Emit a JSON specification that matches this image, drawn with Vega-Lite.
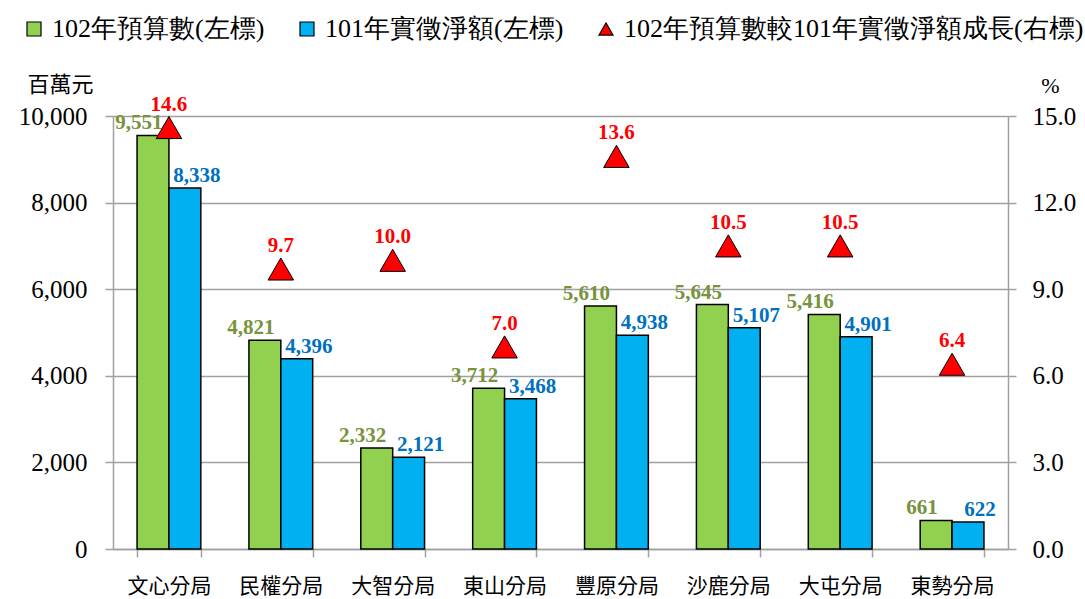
{
  "$schema": "https://vega.github.io/schema/vega-lite/v6.json",
  "width": 895,
  "height": 433,
  "autosize": {"type": "none"},
  "padding": {"left": 113, "top": 116, "right": 77, "bottom": 50},
  "background": "white",
  "config": {
    "view": {"stroke": null},
    "font": "Liberation Serif",
    "style": {
      "guide-label": {"font": "Liberation Serif", "fill": "black"},
      "guide-title": {"font": "Liberation Serif", "fill": "black"}
    },
    "axis": {
      "domainColor": "#A0A0A0",
      "domainWidth": 1.5,
      "tickColor": "#A0A0A0",
      "tickWidth": 1.5,
      "tickSize": 8,
      "gridColor": "#A0A0A0",
      "gridWidth": 1.5,
      "labelColor": "black",
      "labelFont": "Liberation Serif",
      "titleFont": "Liberation Serif",
      "titleFontWeight": "normal",
      "titleColor": "black"
    },
    "legend": {
      "labelFont": "Liberation Serif",
      "labelFontSize": 26,
      "labelColor": "black",
      "symbolSize": 196,
      "symbolStrokeColor": "black",
      "symbolStrokeWidth": 1.2,
      "labelOffset": 5,
      "columnPadding": 29,
      "padding": 0,
      "labelLimit": 700
    }
  },
  "data": {
    "values": [
      {"district": "文心分局", "series": "102年預算數(左標)", "value": 9551},
      {"district": "文心分局", "series": "101年實徵淨額(左標)", "value": 8338},
      {"district": "文心分局", "series": "102年預算數較101年實徵淨額成長(右標)", "value": 14.6},
      {"district": "民權分局", "series": "102年預算數(左標)", "value": 4821},
      {"district": "民權分局", "series": "101年實徵淨額(左標)", "value": 4396},
      {"district": "民權分局", "series": "102年預算數較101年實徵淨額成長(右標)", "value": 9.7},
      {"district": "大智分局", "series": "102年預算數(左標)", "value": 2332},
      {"district": "大智分局", "series": "101年實徵淨額(左標)", "value": 2121},
      {"district": "大智分局", "series": "102年預算數較101年實徵淨額成長(右標)", "value": 10.0},
      {"district": "東山分局", "series": "102年預算數(左標)", "value": 3712},
      {"district": "東山分局", "series": "101年實徵淨額(左標)", "value": 3468},
      {"district": "東山分局", "series": "102年預算數較101年實徵淨額成長(右標)", "value": 7.0},
      {"district": "豐原分局", "series": "102年預算數(左標)", "value": 5610},
      {"district": "豐原分局", "series": "101年實徵淨額(左標)", "value": 4938},
      {"district": "豐原分局", "series": "102年預算數較101年實徵淨額成長(右標)", "value": 13.6},
      {"district": "沙鹿分局", "series": "102年預算數(左標)", "value": 5645},
      {"district": "沙鹿分局", "series": "101年實徵淨額(左標)", "value": 5107},
      {"district": "沙鹿分局", "series": "102年預算數較101年實徵淨額成長(右標)", "value": 10.5},
      {"district": "大屯分局", "series": "102年預算數(左標)", "value": 5416},
      {"district": "大屯分局", "series": "101年實徵淨額(左標)", "value": 4901},
      {"district": "大屯分局", "series": "102年預算數較101年實徵淨額成長(右標)", "value": 10.5},
      {"district": "東勢分局", "series": "102年預算數(左標)", "value": 661},
      {"district": "東勢分局", "series": "101年實徵淨額(左標)", "value": 622},
      {"district": "東勢分局", "series": "102年預算數較101年實徵淨額成長(右標)", "value": 6.4}
    ]
  },
  "encoding": {
    "x": {
      "field": "district",
      "type": "nominal",
      "sort": ["文心分局", "民權分局", "大智分局", "東山分局", "豐原分局", "沙鹿分局", "大屯分局", "東勢分局"],
      "scale": {"paddingInner": 0.43, "paddingOuter": 0.215},
      "axis": {
        "title": null,
        "tickBand": "extent",
        "labelAngle": 0,
        "labelFontSize": 21,
        "labelPadding": 18,
        "labelFont": "Noto Sans CJK TC",
        "grid": false
      }
    }
  },
  "layer": [
    {
      "encoding": {
        "y": {
          "field": "value",
          "type": "quantitative",
          "scale": {"domain": [0, 10000], "nice": false},
          "axis": {
            "values": [0, 2000, 4000, 6000, 8000, 10000],
            "format": ",.0f",
            "grid": true,
            "labelFont": "Liberation Serif",
            "labelFontSize": 25,
            "labelPadding": 18,
            "title": "百萬元",
            "titleAngle": 0,
            "titleX": -53,
            "titleY": -32,
            "titleAlign": "center",
            "titleBaseline": "middle",
            "titleFontSize": 22,
            "titleFont": "Noto Sans CJK TC"
          }
        }
      },
      "layer": [
        {
          "transform": [{"filter": {"field": "series", "oneOf": ["102年預算數(左標)", "101年實徵淨額(左標)"]}}],
          "mark": {"type": "bar", "stroke": "black", "strokeWidth": 1.5},
          "encoding": {
            "xOffset": {"field": "series", "type": "nominal", "sort": ["102年預算數(左標)", "101年實徵淨額(左標)"], "scale": {"domain": ["102年預算數(左標)", "101年實徵淨額(左標)"], "paddingInner": 0, "paddingOuter": 0}},
            "color": {
              "field": "series",
              "type": "nominal",
              "scale": {
                "domain": ["102年預算數(左標)", "101年實徵淨額(左標)", "102年預算數較101年實徵淨額成長(右標)"],
                "range": ["#92D050", "#00B0F0", "#FF0000"]
              },
              "legend": {"title": null, "orient": "none", "legendX": -92, "legendY": -100, "direction": "horizontal", "columns": 3, "labelFont": "Liberation Serif"}
            }
          }
        },
        {
          "transform": [{"filter": {"field": "series", "equal": "102年預算數(左標)"}}],
          "mark": {"type": "text", "dx": -14, "dy": -6, "baseline": "alphabetic", "fontSize": 21, "fontWeight": "bold", "color": "#77933C", "font": "Liberation Serif"},
          "encoding": {
            "xOffset": {"field": "series", "type": "nominal"},
            "text": {"field": "value", "type": "quantitative", "format": ","}
          }
        },
        {
          "transform": [{"filter": {"field": "series", "equal": "101年實徵淨額(左標)"}}],
          "mark": {"type": "text", "dx": 12, "dy": -6, "baseline": "alphabetic", "fontSize": 21, "fontWeight": "bold", "color": "#0070C0", "font": "Liberation Serif"},
          "encoding": {
            "xOffset": {"field": "series", "type": "nominal"},
            "text": {"field": "value", "type": "quantitative", "format": ","}
          }
        }
      ]
    },
    {
      "transform": [{"filter": {"field": "series", "equal": "102年預算數較101年實徵淨額成長(右標)"}}],
      "encoding": {
        "y": {
          "field": "value",
          "type": "quantitative",
          "scale": {"domain": [0, 15], "nice": false},
          "axis": {
            "orient": "right",
            "values": [0, 3, 6, 9, 12, 15],
            "format": ".1f",
            "grid": false,
            "labelFont": "Liberation Serif",
            "labelFontSize": 25,
            "labelPadding": 16,
            "title": "%",
            "titleFont": "Liberation Serif",
            "titleAngle": 0,
            "titleX": 42,
            "titleY": -31,
            "titleAlign": "center",
            "titleBaseline": "middle",
            "titleFontSize": 22
          }
        }
      },
      "layer": [
        {
          "mark": {"type": "point", "filled": true, "size": 650, "stroke": "black", "strokeWidth": 1, "opacity": 1},
          "encoding": {
            "color": {"field": "series", "type": "nominal"},
            "shape": {
              "field": "series",
              "type": "nominal",
              "scale": {
                "domain": ["102年預算數(左標)", "101年實徵淨額(左標)", "102年預算數較101年實徵淨額成長(右標)"],
                "range": ["square", "square", "triangle-up"]
              },
              "legend": {"title": null, "orient": "none", "legendX": -92, "legendY": -100, "direction": "horizontal", "columns": 3, "labelFont": "Liberation Serif"}
            }
          }
        },
        {
          "mark": {"type": "text", "dy": -17, "baseline": "alphabetic", "fontSize": 21, "fontWeight": "bold", "color": "#FF0000", "font": "Liberation Serif"},
          "encoding": {
            "text": {"field": "value", "type": "quantitative", "format": ".1f"}
          }
        }
      ]
    }
  ],
  "resolve": {"scale": {"y": "independent"}}
}
